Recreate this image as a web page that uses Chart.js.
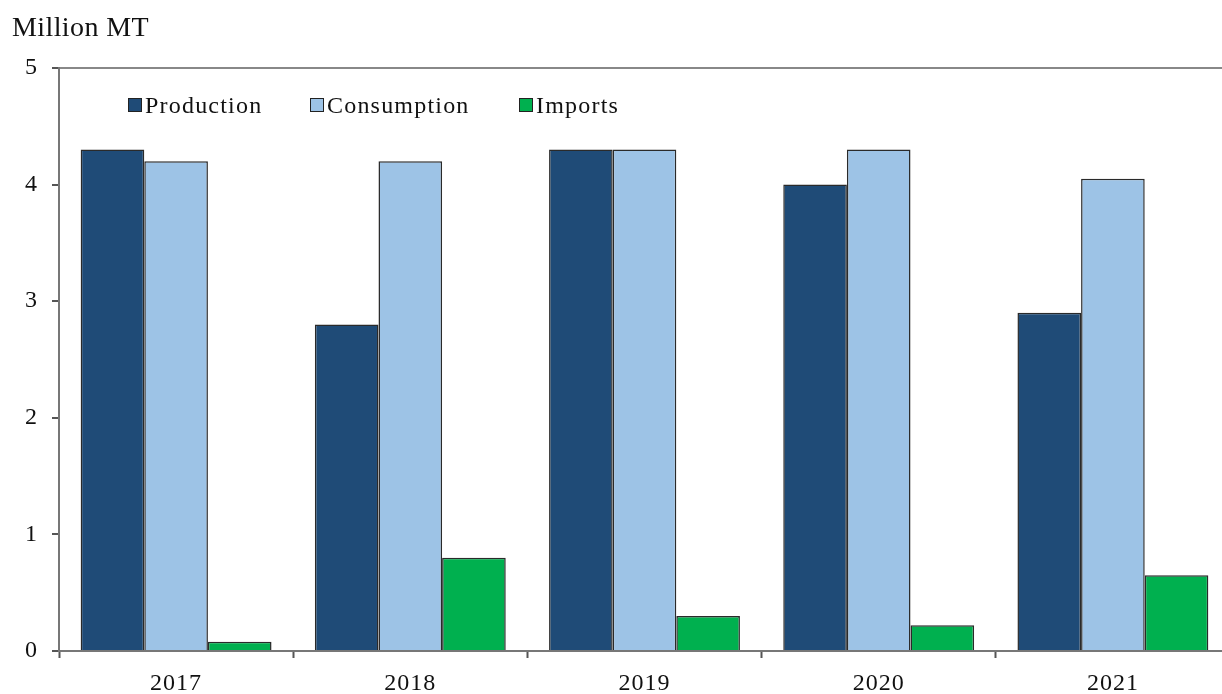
<!DOCTYPE html>
<html>
<head>
<meta charset="utf-8">
<script src="https://cdn.jsdelivr.net/npm/chart.js@4/dist/chart.umd.min.js"></script>
<style>
  html, body { margin: 0; padding: 0; background: #fff; overflow: hidden; }
  #wrap { position: relative; width: 1230px; height: 694px; }
</style>
</head>
<body>
<div id="wrap"><canvas id="chart"></canvas></div>
<script>
// Annual balance, million metric tons
const years = ['2017', '2018', '2019', '2020', '2021'];
const production = [4.3, 2.8, 4.3, 4.0, 2.9];
const consumption = [4.2, 4.2, 4.3, 4.3, 4.05];
const imports = [0.08, 0.8, 0.3, 0.22, 0.65];
const yTicks = [0, 1, 2, 3, 4, 5];

const SERIF = '"Liberation Serif", "Times New Roman", serif';

// Slight tracking on all canvas text
const letterSpacingPlugin = {
  id: 'letterSpacing',
  beforeDraw(chart) { chart.ctx.letterSpacing = '1px'; }
};

// Unit caption and in-plot legend
const annotations = {
  id: 'annotations',
  afterDraw(chart) {
    const ctx = chart.ctx;
    ctx.save();
    ctx.letterSpacing = '0.4px';
    ctx.fillStyle = '#111';
    ctx.font = '28px ' + SERIF;
    ctx.textBaseline = 'alphabetic';
    ctx.textAlign = 'left';
    ctx.fillText('Million MT', 12, 36);

    const boxX = [128, 310, 519];
    ctx.font = '24px ' + SERIF;
    ctx.letterSpacing = '1.2px';
    chart.data.datasets.forEach((ds, i) => {
      const x = boxX[i];
      ctx.fillStyle = ds.backgroundColor;
      ctx.fillRect(x, 98, 14, 14);
      ctx.strokeStyle = '#222';
      ctx.lineWidth = 1;
      ctx.strokeRect(x + 0.5, 98.5, 13, 13);
      ctx.fillStyle = '#111';
      ctx.fillText(ds.label, x + 17, 113);
    });
    ctx.restore();
  }
};

new Chart(document.getElementById('chart'), {
  type: 'bar',
  data: {
    labels: years,
    datasets: [
      { label: 'Production', data: production, backgroundColor: '#1F4B77' },
      { label: 'Consumption', data: consumption, backgroundColor: '#9DC3E6' },
      { label: 'Imports', data: imports, backgroundColor: '#00B04F' }
    ].map(d => Object.assign(d, {
      borderColor: '#2a2a2a',
      borderWidth: 1.5,
      borderSkipped: 'bottom',
      categoryPercentage: 0.815,
      barPercentage: 1.0
    }))
  },
  options: {
    responsive: true,
    maintainAspectRatio: false,
    animation: false,
    layout: { padding: { top: 68, left: 0, right: 0, bottom: 0 } },
    plugins: {
      legend: { display: false },
      tooltip: { enabled: false }
    },
    scales: {
      x: {
        afterFit(scale) { scale.height = 43; },
        grid: {
          offset: true,
          drawOnChartArea: false,
          drawTicks: true,
          tickLength: 7,
          tickColor: '#555',
          tickWidth: 2
        },
        border: { display: true, color: '#777', width: 2 },
        ticks: {
          color: '#111',
          padding: 11,
          font: { family: SERIF, size: 24 }
        }
      },
      y: {
        min: 0,
        max: 5,
        afterFit(scale) { scale.width = 59; },
        afterBuildTicks(scale) { scale.ticks = yTicks.map(v => ({ value: v })); },
        grid: {
          drawTicks: true,
          tickLength: 7,
          tickColor: '#555',
          tickWidth: 2,
          lineWidth: 2,
          color: ctx => (ctx.tick && ctx.tick.value === 5 ? '#888' : 'rgba(0,0,0,0)')
        },
        border: { display: true, color: '#777', width: 2 },
        ticks: {
          color: '#111',
          padding: 14,
          font: { family: SERIF, size: 24 }
        }
      }
    }
  },
  plugins: [letterSpacingPlugin, annotations]
});
</script>
</body>
</html>
